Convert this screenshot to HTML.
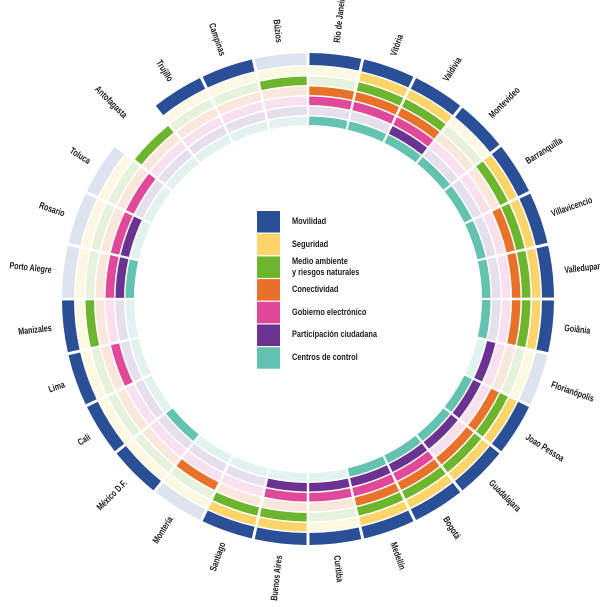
<!DOCTYPE html>
<html><head><meta charset="utf-8"><style>
html,body{margin:0;padding:0;background:#fff;}
svg{display:block;}
text{font-family:"Liberation Sans Narrow","Liberation Sans",sans-serif;font-weight:bold;fill:#1a1a1a;}
.lb{font-size:9.5px;}
.lg{font-size:9.5px;}
</style></head><body>
<svg id="s" width="603" height="607" viewBox="0 0 603 607" xmlns="http://www.w3.org/2000/svg">
<g id="arcs"></g>
<g class="lb">
<text transform="rotate(-83.57 308 299) translate(566 302) scale(0.75 1)">Rio de Janeiro</text>
<text transform="rotate(-70.71 308 299) translate(566 302) scale(0.75 1)">Vitória</text>
<text transform="rotate(-57.86 308 299) translate(566 302) scale(0.75 1)">Valdivia</text>
<text transform="rotate(-45 308 299) translate(566 302) scale(0.75 1)">Montevideo</text>
<text transform="rotate(-32.14 308 299) translate(566 302) scale(0.75 1)">Barranquilla</text>
<text transform="rotate(-19.29 308 299) translate(566 302) scale(0.75 1)">Villavicencio</text>
<text transform="rotate(-6.43 308 299) translate(566 302) scale(0.75 1)">Valledupar</text>
<text transform="rotate(6.43 308 299) translate(566 302) scale(0.75 1)">Goiânia</text>
<text transform="rotate(19.29 308 299) translate(566 302) scale(0.75 1)">Florianópolis</text>
<text transform="rotate(32.14 308 299) translate(566 302) scale(0.75 1)">Joao Pessoa</text>
<text transform="rotate(45 308 299) translate(566 302) scale(0.75 1)">Guadalajara</text>
<text transform="rotate(57.86 308 299) translate(566 302) scale(0.75 1)">Bogotá</text>
<text transform="rotate(70.71 308 299) translate(566 302) scale(0.75 1)">Medellín</text>
<text transform="rotate(83.57 308 299) translate(566 302) scale(0.75 1)">Curitiba</text>
</g>
<g class="lb" text-anchor="end">
<text transform="rotate(-83.57 308 299) translate(50 302) scale(0.75 1)">Buenos Aires</text>
<text transform="rotate(-70.71 308 299) translate(50 302) scale(0.75 1)">Santiago</text>
<text transform="rotate(-57.86 308 299) translate(50 302) scale(0.75 1)">Montería</text>
<text transform="rotate(-45 308 299) translate(50 302) scale(0.75 1)">México D.F.</text>
<text transform="rotate(-32.14 308 299) translate(50 302) scale(0.75 1)">Cali</text>
<text transform="rotate(-19.29 308 299) translate(50 302) scale(0.75 1)">Lima</text>
<text transform="rotate(-6.43 308 299) translate(50 302) scale(0.75 1)">Manizales</text>
<text transform="rotate(6.43 308 299) translate(50 302) scale(0.75 1)">Porto Alegre</text>
<text transform="rotate(19.29 308 299) translate(50 302) scale(0.75 1)">Rosario</text>
<text transform="rotate(32.14 308 299) translate(50 302) scale(0.75 1)">Toluca</text>
<text transform="rotate(45 308 299) translate(50 302) scale(0.75 1)">Antofagasta</text>
<text transform="rotate(57.86 308 299) translate(50 302) scale(0.75 1)">Trujillo</text>
<text transform="rotate(70.71 308 299) translate(50 302) scale(0.75 1)">Campinas</text>
<text transform="rotate(83.57 308 299) translate(50 302) scale(0.75 1)">Búzios</text>
</g>
<g>
<rect x="257" y="211" width="23" height="21.5" fill="#2a4f96"/>
<rect x="257" y="233.7" width="23" height="21.5" fill="#fcd56a"/>
<rect x="257" y="256.4" width="23" height="21.5" fill="#6cb52d"/>
<rect x="257" y="279.1" width="23" height="21.5" fill="#e8722a"/>
<rect x="257" y="301.8" width="23" height="21.5" fill="#e0489a"/>
<rect x="257" y="324.5" width="23" height="21.5" fill="#6a3391"/>
<rect x="257" y="347.2" width="23" height="21.5" fill="#64c2b0"/>
</g>
<g class="lg" transform="translate(292 0) scale(0.78 1)">
<text x="0" y="224">Movilidad</text>
<text x="0" y="247">Seguridad</text>
<text x="0" y="264">Medio ambiente</text>
<text x="0" y="275">y riesgos naturales</text>
<text x="0" y="292">Conectividad</text>
<text x="0" y="315">Gobierno electrónico</text>
<text x="0" y="337">Participación ciudadana</text>
<text x="0" y="360">Centros de control</text>
</g>
</svg>
<script>
var cx=308,cy=299;
var full=["#2a4f96","#fcd56a","#6cb52d","#e8722a","#e0489a","#6a3391","#64c2b0"];
var pale=["#dde3ef","#fdf8e2","#e6f2dc","#f9e7dc","#f9e0ee","#e5e0ec","#e2f3ef"];
var d=["1001101","1111101","1111111","1000001","1110001","1111001","1111001","1111001","0000010","1111011","1111011","1111111","1111111","1000110","1110110","1110000","0001000","1000001","1000000","1000100","1010000","0000111","0000110","0000100","xx10000","1000000","1000000","0010000"];
function pt(r,a){a=a*Math.PI/180;return [cx+r*Math.sin(a),cy-r*Math.cos(a)];}
var g=document.getElementById("arcs"),h="";
var step=360/28;
for(var i=0;i<28;i++){
 var a0=i*step+0.35,a1=(i+1)*step-0.35;
 for(var k=0;k<7;k++){
  var c=d[i][k]; if(c=="x")continue;
  var ri,ro;
  if(k==0){ri=234;ro=246;}else{ri=234-10*k;ro=ri+8.5;}
  var p1=pt(ro,a0),p2=pt(ro,a1),p3=pt(ri,a1),p4=pt(ri,a0);
  h+='<path d="M'+p1[0].toFixed(2)+' '+p1[1].toFixed(2)+' A'+ro+' '+ro+' 0 0 1 '+p2[0].toFixed(2)+' '+p2[1].toFixed(2)+' L'+p3[0].toFixed(2)+' '+p3[1].toFixed(2)+' A'+ri+' '+ri+' 0 0 0 '+p4[0].toFixed(2)+' '+p4[1].toFixed(2)+' Z" fill="'+(c=="1"?full[k]:pale[k])+'"/>';
 }
}
g.innerHTML=h;
</script>
</body></html>
